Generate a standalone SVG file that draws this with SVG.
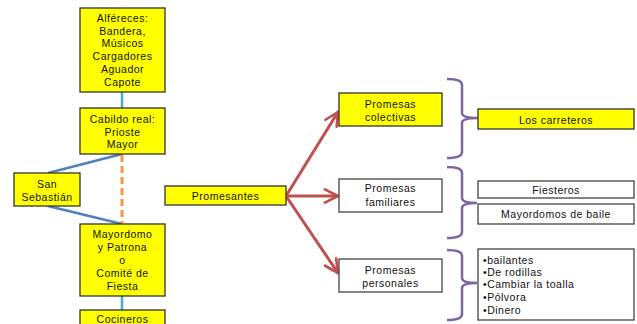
<svg xmlns="http://www.w3.org/2000/svg" width="637" height="324" viewBox="0 0 637 324">
<style>
text{font-family:"Liberation Sans",Arial,sans-serif;font-size:10.5px;letter-spacing:0.5px;fill:#111;text-anchor:middle;dominant-baseline:central}
.y{fill:#ffff00;stroke:#333;stroke-width:1.3}
.w{fill:#fff;stroke:#444;stroke-width:1.3}
.red{stroke:#c0504d;stroke-width:3;fill:none;stroke-linecap:round}
.br{stroke:#8064a2;stroke-width:2.5;fill:none}
.l{text-anchor:start}
</style>
<defs>
<marker id="ah" viewBox="0 0 10 10" refX="9" refY="5" markerWidth="5.5" markerHeight="5.5" orient="auto" markerUnits="strokeWidth">
<path d="M1,1 L9,5 L1,9" fill="none" stroke="#c0504d" stroke-width="1.6" stroke-linecap="round" stroke-linejoin="round"/>
</marker>
</defs>
<g id="connectors">
<line x1="122" y1="92" x2="122" y2="108" stroke="#4bacc6" stroke-width="2.5"/>
<line x1="122" y1="154" x2="48" y2="173" stroke="#4f81bd" stroke-width="2.5"/>
<line x1="48" y1="206" x2="122" y2="224" stroke="#4f81bd" stroke-width="2.5"/>
<line x1="122" y1="155" x2="122" y2="223" stroke="#f79646" stroke-width="3" stroke-dasharray="7,4"/>
<line x1="122" y1="296" x2="122" y2="310" stroke="#4bacc6" stroke-width="2.5"/>
<line class="red" x1="286" y1="196" x2="338" y2="112" marker-end="url(#ah)"/>
<line class="red" x1="286" y1="196" x2="338" y2="196" marker-end="url(#ah)"/>
<line class="red" x1="286" y1="196" x2="338" y2="273" marker-end="url(#ah)"/>
<path class="br" d="M447,79 Q462,79 462,85 L462,113 Q462,118 478,118 Q462,118 462,123 L462,152 Q462,158 447,158"/>
<path class="br" d="M447,167 Q462,167 462,173 L462,198 Q462,203 477,203 Q462,203 462,208 L462,232 Q462,238 447,238"/>
<path class="br" d="M447,250 Q462,250 462,256 L462,278 Q462,283 477,283 Q462,283 462,288 L462,314 Q462,320 447,320"/>
</g>
<g id="alfereces">
<rect class="y" x="80" y="8" width="85" height="84"/>
<text x="122.5" y="18">Alféreces:</text>
<text x="122.5" y="31">Bandera,</text>
<text x="122.5" y="43">Músicos</text>
<text x="122.5" y="56">Cargadores</text>
<text x="122.5" y="69">Aguador</text>
<text x="122.5" y="82">Capote</text>
</g>
<g id="cabildo">
<rect class="y" x="80" y="108" width="85" height="46"/>
<text x="122.5" y="119">Cabildo real:</text>
<text x="122.5" y="132">Prioste</text>
<text x="122.5" y="144">Mayor</text>
</g>
<g id="sansebastian">
<rect class="y" x="14" y="173" width="66" height="33"/>
<text x="47" y="184">San</text>
<text x="47" y="197">Sebastián</text>
</g>
<g id="mayordomo">
<rect class="y" x="80" y="224" width="85" height="72"/>
<text x="122.5" y="234">Mayordomo</text>
<text x="122.5" y="247">y Patrona</text>
<text x="122.5" y="260">o</text>
<text x="122.5" y="273">Comité de</text>
<text x="122.5" y="286">Fiesta</text>
</g>
<g id="cocineros">
<rect class="y" x="80" y="310" width="85" height="30"/>
<text x="122.5" y="319">Cocineros</text>
</g>
<g id="promesantes">
<rect class="y" x="165" y="186" width="121" height="19"/>
<text x="225.5" y="196">Promesantes</text>
</g>
<g id="colectivas">
<rect class="y" x="339" y="93" width="103" height="33"/>
<text x="390.5" y="104">Promesas</text>
<text x="390.5" y="117">colectivas</text>
</g>
<g id="familiares">
<rect class="w" x="339" y="179" width="103" height="33"/>
<text x="390.5" y="188">Promesas</text>
<text x="390.5" y="202">familiares</text>
</g>
<g id="personales">
<rect class="w" x="339" y="259" width="103" height="33"/>
<text x="390.5" y="270">Promesas</text>
<text x="390.5" y="283">personales</text>
</g>
<g id="carreteros">
<rect class="y" x="478" y="109" width="156" height="20"/>
<text x="556" y="120">Los carreteros</text>
</g>
<g id="fiesteros">
<rect class="w" x="478" y="181" width="156" height="17"/>
<text x="556" y="190">Fiesteros</text>
</g>
<g id="mayordomosbaile">
<rect class="w" x="478" y="204" width="156" height="20"/>
<text x="556" y="214">Mayordomos de baile</text>
</g>
<g id="lista">
<rect class="w" x="478" y="249" width="156" height="71"/>
<text class="l" x="483" y="260">•bailantes</text>
<text class="l" x="483" y="272">•De rodillas</text>
<text class="l" x="483" y="284">•Cambiar la toalla</text>
<text class="l" x="483" y="297">•Pólvora</text>
<text class="l" x="483" y="310">•Dinero</text>
</g>
</svg>
